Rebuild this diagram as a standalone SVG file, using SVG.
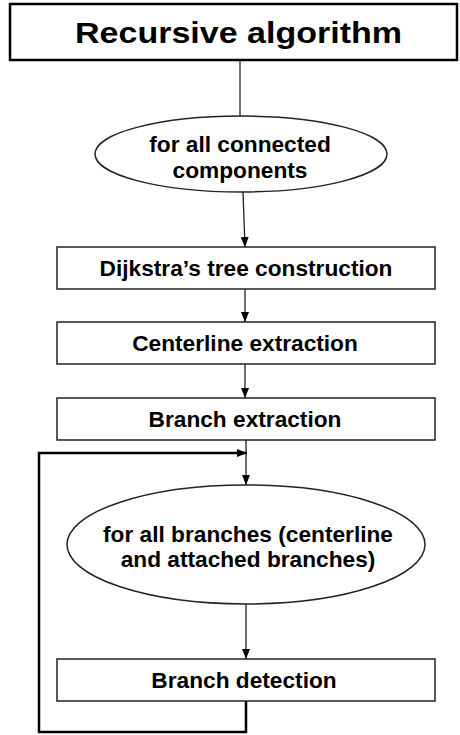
<svg xmlns="http://www.w3.org/2000/svg" width="460" height="735" viewBox="0 0 460 735">
<style>
.box{fill:#fff;stroke:#222;stroke-width:1.5}
.ttl{fill:#fff;stroke:#000;stroke-width:2.5}
.t{font-family:"Liberation Sans",Arial,sans-serif;font-weight:bold;font-size:22.7px;fill:#000;text-anchor:middle}
.c{fill:none;stroke:#222;stroke-width:1.3}
.loop{fill:none;stroke:#000;stroke-width:2.5}
</style>
<defs>
<marker id="ah" viewBox="0 0 10 8" refX="10" refY="4" markerWidth="10" markerHeight="8" markerUnits="userSpaceOnUse" orient="auto">
<path d="M0,0 L10,4 L0,8 Z" fill="#000"/>
</marker>
</defs>
<g id="connectors">
<line class="c" x1="240" y1="60" x2="240" y2="116"/>
<line class="c" x1="243" y1="192" x2="245" y2="247" marker-end="url(#ah)"/>
<line class="c" x1="245" y1="289" x2="245" y2="322" marker-end="url(#ah)"/>
<line class="c" x1="245" y1="364" x2="245" y2="398" marker-end="url(#ah)"/>
<line class="c" x1="246" y1="440" x2="246" y2="485" marker-end="url(#ah)"/>
<line class="c" x1="246" y1="604" x2="246" y2="659" marker-end="url(#ah)"/>
<polyline class="loop" points="246,701 246,732 39,732 39,453 247,453" marker-end="url(#ah)"/>
</g>
<g id="title">
<rect class="ttl" x="10" y="4" width="447" height="56"/>
<text class="t" x="238.5" y="43" style="font-size:30px" textLength="327" lengthAdjust="spacingAndGlyphs">Recursive algorithm</text>
</g>
<g id="cc">
<ellipse class="box" cx="241" cy="154" rx="146" ry="38"/>
<text class="t" x="240" y="152">for all connected</text>
<text class="t" x="240" y="178">components</text>
</g>
<g id="dijkstra">
<rect class="box" x="57" y="247" width="378" height="42"/>
<text class="t" x="246" y="276">Dijkstra’s tree construction</text>
</g>
<g id="centerline">
<rect class="box" x="57" y="322" width="378" height="42"/>
<text class="t" x="245" y="351">Centerline extraction</text>
</g>
<g id="branchext">
<rect class="box" x="57" y="398" width="378" height="42"/>
<text class="t" x="245" y="427">Branch extraction</text>
</g>
<g id="allbranches">
<ellipse class="box" cx="246" cy="544.5" rx="179" ry="59.5"/>
<text class="t" x="248" y="542">for all branches (centerline</text>
<text class="t" x="248" y="567">and attached branches)</text>
</g>
<g id="branchdet">
<rect class="box" x="57" y="659" width="378" height="42"/>
<text class="t" x="244" y="688">Branch detection</text>
</g>
</svg>
